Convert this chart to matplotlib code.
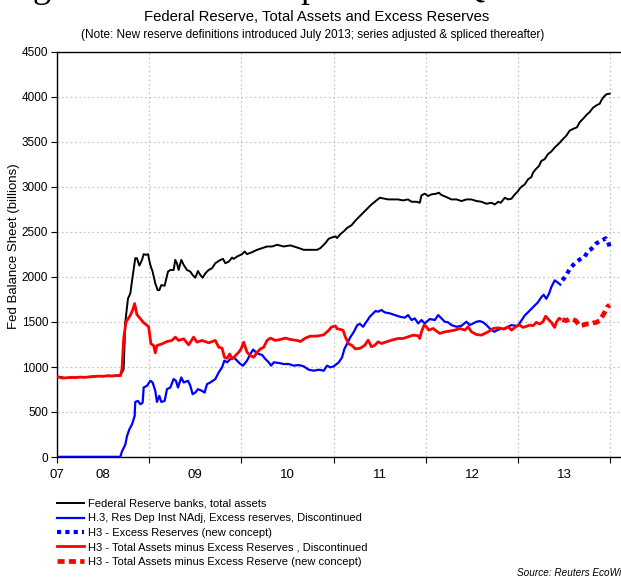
import matplotlib
matplotlib.use("Agg")
import matplotlib.pyplot as plt
from matplotlib.lines import Line2D

plt.rcParams['font.family'] = ['Liberation Sans', 'DejaVu Sans']

# ---- data (decimal years, USD billions) ----
assets_t = [2008.00, 2008.05, 2008.10, 2008.15, 2008.20, 2008.25, 2008.30, 2008.35, 2008.40, 2008.45,
            2008.50, 2008.55, 2008.60, 2008.65, 2008.687, 2008.723, 2008.741, 2008.770, 2008.795, 2008.820,
            2008.849, 2008.867, 2008.893, 2008.922, 2008.940, 2008.965, 2008.987, 2009.012, 2009.037, 2009.066,
            2009.092, 2009.110, 2009.131, 2009.167, 2009.204, 2009.229, 2009.265, 2009.283, 2009.301, 2009.319,
            2009.348, 2009.374, 2009.410, 2009.446, 2009.471, 2009.500, 2009.529, 2009.554, 2009.580, 2009.609,
            2009.645, 2009.681, 2009.717, 2009.772, 2009.801, 2009.826, 2009.863, 2009.899, 2009.917, 2009.953,
            2010.007, 2010.036, 2010.061, 2010.116, 2010.170, 2010.224, 2010.278, 2010.333, 2010.387, 2010.459,
            2010.531, 2010.604, 2010.676, 2010.748, 2010.821, 2010.857, 2010.911, 2010.947, 2010.983, 2011.020,
            2011.038, 2011.074, 2011.110, 2011.146, 2011.194, 2011.248, 2011.302, 2011.356, 2011.411, 2011.465,
            2011.501, 2011.537, 2011.591, 2011.646, 2011.700, 2011.754, 2011.808, 2011.845, 2011.899, 2011.935,
            2011.953, 2011.989, 2012.025, 2012.061, 2012.116, 2012.141, 2012.170, 2012.224, 2012.278, 2012.333,
            2012.387, 2012.441, 2012.495, 2012.550, 2012.604, 2012.658, 2012.712, 2012.748, 2012.785, 2012.813,
            2012.857, 2012.893, 2012.929, 2012.964, 2013.000, 2013.025, 2013.047, 2013.072, 2013.108, 2013.145,
            2013.163, 2013.192, 2013.228, 2013.253, 2013.289, 2013.325, 2013.362, 2013.398, 2013.445, 2013.488,
            2013.524, 2013.560, 2013.597, 2013.640, 2013.669, 2013.705, 2013.748, 2013.777, 2013.813, 2013.850,
            2013.886, 2013.904, 2013.929, 2013.958, 2013.994]
assets_v = [895, 886, 877, 882, 884, 888, 886, 891, 895, 899,
            898, 903, 901, 906, 905, 977, 1500, 1761, 1817, 2004,
            2209, 2209, 2127, 2190, 2254, 2246, 2254, 2134, 2060, 1929,
            1854, 1854, 1910, 1903, 2060, 2078, 2078, 2190, 2153, 2078,
            2190, 2134, 2078, 2060, 2022, 1992, 2067, 2022, 1992, 2041,
            2078, 2097, 2153, 2190, 2201, 2153, 2171, 2216, 2201, 2227,
            2254, 2283, 2254, 2276, 2302, 2321, 2339, 2339, 2358, 2339,
            2351, 2328, 2302, 2302, 2302, 2321, 2377, 2425, 2440, 2451,
            2433, 2477, 2507, 2545, 2575, 2639, 2695, 2750, 2806, 2851,
            2881, 2873, 2862, 2862, 2862, 2851, 2862, 2836, 2836, 2825,
            2907, 2926, 2899, 2918, 2926, 2937, 2911, 2888, 2862, 2862,
            2844, 2862, 2862, 2844, 2836, 2814, 2825, 2806, 2836, 2825,
            2881, 2862, 2870, 2916, 2954, 2991, 3010, 3028, 3084, 3111,
            3159, 3197, 3234, 3290, 3309, 3365, 3395, 3439, 3484, 3533,
            3570, 3626, 3645, 3664, 3720, 3757, 3806, 3832, 3880, 3907,
            3925, 3963, 4000, 4030, 4037]

excess_t = [2008.00, 2008.20, 2008.40, 2008.60, 2008.687, 2008.705, 2008.741, 2008.759, 2008.784, 2008.813,
            2008.842, 2008.849, 2008.878, 2008.904, 2008.929, 2008.940, 2008.976, 2009.012, 2009.037, 2009.066,
            2009.084, 2009.110, 2009.131, 2009.167, 2009.193, 2009.229, 2009.265, 2009.290, 2009.312, 2009.348,
            2009.374, 2009.421, 2009.446, 2009.471, 2009.500, 2009.529, 2009.572, 2009.601, 2009.627, 2009.663,
            2009.717, 2009.754, 2009.790, 2009.816, 2009.845, 2009.881, 2009.917, 2009.953, 2009.989, 2010.018,
            2010.061, 2010.098, 2010.127, 2010.163, 2010.188, 2010.224, 2010.260, 2010.296, 2010.322, 2010.351,
            2010.405, 2010.459, 2010.513, 2010.568, 2010.622, 2010.676, 2010.730, 2010.785, 2010.839, 2010.893,
            2010.929, 2010.965, 2011.001, 2011.056, 2011.092, 2011.117, 2011.146, 2011.182, 2011.218, 2011.255,
            2011.283, 2011.320, 2011.356, 2011.393, 2011.429, 2011.454, 2011.483, 2011.519, 2011.555, 2011.610,
            2011.664, 2011.718, 2011.772, 2011.808, 2011.845, 2011.881, 2011.917, 2011.953, 2011.989, 2012.043,
            2012.098, 2012.134, 2012.170, 2012.206, 2012.242, 2012.278, 2012.333, 2012.387, 2012.441, 2012.477,
            2012.513, 2012.550, 2012.586, 2012.622, 2012.658, 2012.694, 2012.741, 2012.777, 2012.821, 2012.857,
            2012.893, 2012.929, 2012.964, 2013.000, 2013.036, 2013.072, 2013.108, 2013.145, 2013.181, 2013.217,
            2013.253, 2013.278, 2013.307, 2013.336, 2013.362, 2013.398, 2013.434, 2013.459]
excess_v = [2, 2, 2, 2, 2, 63, 138, 231, 306, 362,
            455, 612, 623, 586, 604, 772, 791, 847, 828, 735,
            612, 679, 612, 623, 754, 772, 866, 847, 772, 884,
            828, 847, 791, 698, 716, 754, 735, 716, 810, 828,
            866, 940, 996, 1071, 1052, 1089, 1108, 1071, 1033, 1015,
            1071, 1145, 1194, 1157, 1145, 1134, 1089, 1052, 1015, 1052,
            1045, 1033, 1033, 1015, 1022, 1007, 970, 959, 970, 959,
            1015, 996, 1007, 1052, 1108, 1201, 1257, 1332, 1388, 1463,
            1481, 1447, 1503, 1559, 1596, 1622, 1615, 1633, 1607, 1596,
            1577, 1559, 1548, 1577, 1522, 1540, 1484, 1522, 1484, 1533,
            1522, 1577, 1540, 1503, 1496, 1466, 1447, 1458, 1503, 1466,
            1484, 1503, 1510, 1496, 1466, 1428, 1391, 1410, 1428, 1421,
            1447, 1466, 1459, 1459, 1515, 1571, 1608, 1646, 1683, 1720,
            1776, 1803, 1758, 1814, 1889, 1963, 1937, 1915]

excess_new_t = [2013.481, 2013.524, 2013.560, 2013.597, 2013.633, 2013.687, 2013.723, 2013.759, 2013.795, 2013.850,
                2013.886, 2013.922, 2013.951, 2013.976, 2013.994]
excess_new_v = [1963, 2019, 2087, 2132, 2169, 2206, 2225, 2288, 2311, 2374,
                2393, 2412, 2430, 2393, 2337]

net_t = [2008.00, 2008.03, 2008.06, 2008.10, 2008.15, 2008.20, 2008.25, 2008.30, 2008.35, 2008.40,
         2008.45, 2008.50, 2008.55, 2008.60, 2008.65, 2008.687, 2008.705, 2008.723, 2008.748, 2008.795,
         2008.820, 2008.842, 2008.867, 2008.904, 2008.940, 2008.976, 2008.994, 2009.019, 2009.048, 2009.066,
         2009.084, 2009.139, 2009.193, 2009.247, 2009.283, 2009.319, 2009.374, 2009.428, 2009.482, 2009.518,
         2009.572, 2009.645, 2009.717, 2009.754, 2009.790, 2009.816, 2009.845, 2009.873, 2009.899, 2009.935,
         2009.971, 2009.996, 2010.025, 2010.043, 2010.061, 2010.098, 2010.134, 2010.170, 2010.206, 2010.242,
         2010.278, 2010.315, 2010.369, 2010.423, 2010.477, 2010.531, 2010.604, 2010.640, 2010.694, 2010.748,
         2010.821, 2010.893, 2010.947, 2010.976, 2011.020, 2011.038, 2011.074, 2011.103, 2011.128, 2011.164,
         2011.200, 2011.236, 2011.291, 2011.338, 2011.375, 2011.411, 2011.447, 2011.483, 2011.519, 2011.573,
         2011.628, 2011.700, 2011.754, 2011.808, 2011.863, 2011.917, 2011.935, 2011.953, 2011.982, 2012.007,
         2012.033, 2012.080, 2012.116, 2012.152, 2012.206, 2012.260, 2012.315, 2012.369, 2012.423, 2012.459,
         2012.495, 2012.550, 2012.604, 2012.640, 2012.676, 2012.730, 2012.785, 2012.839, 2012.893, 2012.929,
         2012.982, 2013.018, 2013.054, 2013.090, 2013.127, 2013.163, 2013.199, 2013.235, 2013.271, 2013.300,
         2013.325, 2013.362, 2013.380, 2013.398, 2013.416, 2013.445, 2013.459]
net_v = [893, 884, 876, 880, 885, 882, 888, 885, 890, 894,
         899, 897, 902, 900, 905, 903, 977, 1313, 1500, 1574,
         1630, 1705, 1582, 1537, 1492, 1463, 1444, 1257, 1239, 1157,
         1239, 1257, 1283, 1295, 1332, 1295, 1313, 1246, 1332, 1276,
         1295, 1269, 1295, 1220, 1209, 1108, 1097, 1145, 1089, 1127,
         1164, 1201, 1276, 1220, 1164, 1127, 1108, 1164, 1201, 1220,
         1295, 1321, 1295, 1306, 1321, 1306, 1295, 1283, 1321, 1343,
         1343, 1358, 1407, 1444, 1455, 1425, 1418, 1407, 1332, 1257,
         1239, 1201, 1209, 1242, 1298, 1224, 1242, 1280, 1261, 1280,
         1298, 1317, 1317, 1335, 1354, 1347, 1317, 1391, 1466, 1447,
         1410, 1428, 1399, 1373, 1391, 1399, 1410, 1428, 1410, 1447,
         1391, 1361, 1354, 1373, 1391, 1428, 1436, 1421, 1447, 1410,
         1451, 1466, 1440, 1451, 1466, 1459, 1496, 1478, 1504, 1564,
         1534, 1496, 1466, 1440, 1496, 1541, 1534]

net_new_t = [2013.481, 2013.524, 2013.560, 2013.597, 2013.625, 2013.669, 2013.705, 2013.741, 2013.777, 2013.813,
             2013.850, 2013.886, 2013.915, 2013.940, 2013.965, 2013.994]
net_new_v = [1526, 1515, 1534, 1526, 1515, 1459, 1466, 1478, 1478, 1489,
             1496, 1515, 1564, 1608, 1664, 1690]

year_labels = ["07", "08", "09", "10", "11", "12", "13"]
series_names = ["Federal Reserve banks, total assets",
                "H.3, Res Dep Inst NAdj, Excess reserves, Discontinued",
                "H3 - Excess Reserves (new concept)",
                "H3 - Total Assets minus Excess Reserves , Discontinued",
                "H3 - Total Assets minus Excess Reserve (new concept)"]

# ---- figure ----
W, H = 621, 577
fig = plt.figure(figsize=(W / 100, H / 100), dpi=100)
ax_left, ax_right, ax_top, ax_bottom = 56.5, 632, 52, 457
ax = fig.add_axes([ax_left / W, 1 - ax_bottom / H, (ax_right - ax_left) / W, (ax_bottom - ax_top) / H])

px_per_year = 92.2
x0 = 2008.0 - 0.5 / px_per_year
ax.set_xlim(x0, x0 + (ax_right - ax_left) / px_per_year)
ax.set_ylim(0, 4500)

ax.plot(assets_t, assets_v, color="black", lw=1.4, zorder=3)
ax.plot(excess_t, excess_v, color="#0000ff", lw=1.6, zorder=4)
ax.plot(excess_new_t, excess_new_v, color="#0000ff", lw=3.0, zorder=4,
        linestyle=(0, (1.0, 1.0)), dash_capstyle="butt")
ax.plot(net_t, net_v, color="#ff0000", lw=2.0, zorder=5)
ax.plot(net_new_t, net_new_v, color="#ff0000", lw=3.4, zorder=5,
        linestyle=(0, (1.5, 0.9)), dash_capstyle="butt")

# axes styling
ax.spines["right"].set_visible(False)
for s in ["left", "top", "bottom"]:
    ax.spines[s].set_linewidth(1.0)
    ax.spines[s].set_color("black")

ax.set_yticks(range(0, 4501, 500))
ax.tick_params(axis="y", direction="out", length=4, width=0.8, labelsize=8.5, pad=2)
years = list(range(2008, 2015))
ax.set_xticks(years)
ax.set_xticklabels([""] * len(years))
ax.set_xticks([x0] + [y + 0.5 for y in range(2008, 2014)], minor=True)
ax.set_xticklabels(year_labels, minor=True)
ax.tick_params(axis="x", which="major", direction="out", length=4, width=0.8)
ax.tick_params(axis="x", which="minor", length=0, labelsize=9.5, pad=9)

ax.grid(True, which="major", color="#c8c8c8", linestyle=(0, (1.5, 2.0)), linewidth=0.9)
ax.set_axisbelow(True)

ax.set_ylabel("Fed Balance Sheet (billions)", fontsize=9.5)
ax.yaxis.set_label_coords(-(ax_left - 20) / (ax_right - ax_left), 0.52)

# titles
fig.text(0.51, 1 - 17 / H, "Federal Reserve, Total Assets and Excess Reserves",
         ha="center", va="center", fontsize=10.7)
fig.text(0.503, 1 - 35 / H,
         "(Note: New reserve definitions introduced July 2013; series adjusted & spliced thereafter)",
         ha="center", va="center", fontsize=8.5)

# headline above the chart, only its lower edge falls inside the image
for ch, xp in [("g", 42), ("p", 309), ("Q", 472)]:
    fig.text(xp / W, 1 + 3 / H, ch, ha="center", va="baseline", fontsize=26,
             family="Liberation Serif")

# legend
handles = [
    Line2D([], [], color="black", lw=1.4),
    Line2D([], [], color="#0000ff", lw=1.6),
    Line2D([], [], color="#0000ff", lw=3.0, linestyle=(0, (1.0, 1.0)), dash_capstyle="butt"),
    Line2D([], [], color="#ff0000", lw=2.0),
    Line2D([], [], color="#ff0000", lw=3.4, linestyle=(0, (1.5, 0.9)), dash_capstyle="butt"),
]
fig.legend(handles, series_names, loc="upper left", bbox_to_anchor=(57 / W, 1 - 499 / H),
           frameon=False, fontsize=8, handlelength=2.4, handletextpad=0.4,
           labelspacing=0.4, borderpad=0, borderaxespad=0)

fig.text(517 / W, 1 - 573 / H, "Source: Reuters EcoWin", fontsize=7.2, style="italic",
         ha="left", va="center")

fig.savefig("out.png", dpi=100)
